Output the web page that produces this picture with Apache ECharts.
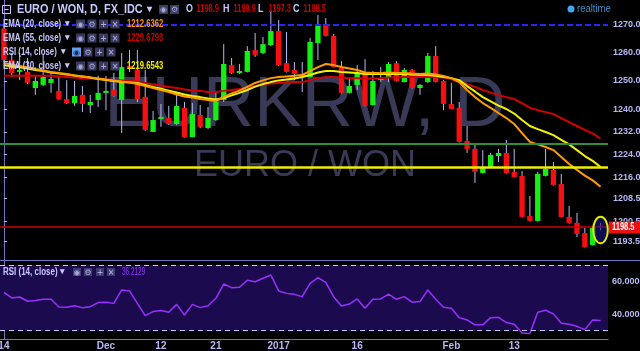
<!DOCTYPE html>
<html><head><meta charset="utf-8">
<script src="https://cdn.jsdelivr.net/npm/echarts@6/dist/echarts.min.js"></script>
<style>html,body{margin:0;padding:0;background:#000;}#c{width:640px;height:351px;}</style>
</head><body><div id="c"></div>
<script>
// ---- data (EUR/KRW daily, FX_IDC) ----
const dates = ['2016-11-14','2016-11-15','2016-11-16','2016-11-17','2016-11-18','2016-11-21','2016-11-22','2016-11-23','2016-11-24','2016-11-25',
 '2016-11-28','2016-11-29','2016-11-30','2016-12-01','2016-12-02','2016-12-05','2016-12-06','2016-12-07','2016-12-08','2016-12-09',
 '2016-12-12','2016-12-13','2016-12-14','2016-12-15','2016-12-16','2016-12-19','2016-12-20','2016-12-21','2016-12-22','2016-12-23',
 '2016-12-26','2016-12-27','2016-12-28','2016-12-29','2016-12-30','2017-01-02','2017-01-03','2017-01-04','2017-01-05','2017-01-06',
 '2017-01-09','2017-01-10','2017-01-11','2017-01-12','2017-01-13','2017-01-16','2017-01-17','2017-01-18','2017-01-19','2017-01-20',
 '2017-01-23','2017-01-24','2017-01-25','2017-01-26','2017-01-27','2017-01-30','2017-01-31','2017-02-01','2017-02-02','2017-02-03',
 '2017-02-06','2017-02-07','2017-02-08','2017-02-09','2017-02-10','2017-02-13','2017-02-14','2017-02-15','2017-02-16','2017-02-17',
 '2017-02-20','2017-02-21','2017-02-22','2017-02-23','2017-02-24','2017-02-27','2017-02-28'];
const open = [1268.5,1257.4,1253.2,1253.2,1247.5,1248.6,1249.3,1246.5,1243.6,1242.2,
 1245.1,1241.5,1243.3,1245.8,1246.8,1243.3,1255.3,1253.9,1244.4,1232.0,
 1236.6,1236.9,1234.8,1240.5,1230.2,1238.0,1233.4,1236.2,1243.3,1255.6,
 1252.8,1253.2,1260.9,1259.9,1262.7,1267.6,1256.3,1253.9,1252.5,1251.4,
 1263.4,1270.1,1265.9,1254.6,1245.8,1248.6,1252.5,1241.5,1250.3,1251.4,
 1256.3,1249.6,1253.9,1247.5,1249.6,1258.8,1250.0,1241.9,1240.5,1228.8,
 1226.0,1217.5,1219.6,1223.5,1224.6,1217.9,1216.5,1202.3,1200.6,1216.5,
 1218.6,1213.6,1202.0,1199.9,1196.3,1192.1,1198.9];
const close = [1257.4,1252.8,1253.9,1249.3,1250.0,1251.4,1250.7,1243.6,1242.2,1244.7,
 1241.9,1242.6,1245.8,1246.5,1244.7,1254.9,1254.2,1243.6,1232.7,1236.2,
 1237.3,1234.8,1241.2,1230.2,1238.3,1233.8,1236.9,1242.6,1256.0,1252.8,
 1253.5,1260.6,1259.2,1263.0,1267.6,1255.6,1253.2,1252.5,1251.4,1263.8,
 1269.4,1265.9,1254.9,1245.8,1248.2,1252.8,1241.2,1250.0,1250.7,1256.0,
 1250.0,1253.9,1247.5,1248.6,1258.8,1249.6,1241.9,1240.1,1228.5,1226.0,
 1217.9,1219.3,1223.9,1224.6,1217.5,1216.1,1202.0,1200.6,1217.2,1218.9,
 1213.3,1202.0,1199.9,1196.0,1191.4,1198.1,1198.5];
const low = [1256.8,1251.5,1250.3,1248.9,1245.1,1248.2,1245.8,1243.3,1241.9,1241.2,
 1239.0,1238.7,1240.8,1239.7,1244.4,1231.6,1253.2,1242.6,1232.3,1232.0,
 1233.8,1234.5,1234.5,1230.0,1230.0,1233.4,1233.0,1235.9,1242.6,1252.5,
 1252.5,1253.0,1258.5,1259.5,1262.3,1255.3,1253.0,1250.3,1246.1,1251.2,
 1257.4,1265.7,1254.8,1245.6,1245.6,1246.8,1241.0,1241.3,1249.6,1249.6,
 1249.8,1249.5,1247.3,1245.1,1249.3,1249.5,1239.7,1240.0,1228.3,1224.6,
 1214.0,1217.3,1219.5,1221.4,1217.3,1216.0,1201.8,1200.4,1200.4,1216.3,
 1213.1,1201.8,1199.7,1194.9,1191.2,1191.9,1197.3];
const high = [1269.5,1259.8,1259.9,1258.1,1251.8,1259.2,1253.2,1251.4,1250.3,1250.0,
 1248.2,1245.1,1251.8,1251.8,1252.8,1259.9,1260.9,1260.9,1253.9,1239.4,
 1241.9,1241.2,1246.1,1242.6,1242.2,1241.5,1240.8,1246.5,1263.0,1258.1,
 1256.0,1262.3,1266.9,1265.5,1275.0,1271.5,1267.3,1256.7,1256.7,1265.2,
 1273.3,1272.2,1266.6,1257.0,1251.1,1255.6,1257.7,1253.5,1254.9,1256.7,
 1257.0,1254.6,1254.2,1248.9,1259.9,1262.3,1250.3,1249.3,1242.6,1234.1,
 1227.7,1225.6,1224.6,1226.0,1229.2,1226.0,1218.2,1209.4,1217.9,1226.0,
 1221.4,1217.2,1205.9,1203.4,1198.1,1198.5,1199.9];
const ema20 = [1256.3,1255.8,1255.3,1254.8,1254.2,1253.7,1253.2,1252.8,1252.5,1251.9,
 1251.6,1251.2,1250.9,1250.5,1250.2,1249.8,1249.5,1248.9,1248.2,1247.5,
 1246.8,1246.1,1245.2,1244.5,1244.2,1243.6,1243.3,1242.9,1244.3,1245.6,
 1246.6,1247.9,1249.3,1250.2,1251.0,1251.4,1251.6,1251.8,1252.1,1253.5,
 1254.9,1256.0,1255.6,1254.9,1254.4,1253.9,1253.0,1252.8,1252.8,1253.0,
 1252.8,1252.8,1252.6,1252.5,1252.6,1252.3,1251.8,1251.0,1249.6,1246.8,
 1244.3,1242.2,1240.5,1238.7,1236.9,1234.8,1231.6,1228.5,1227.6,1226.7,
 1225.6,1223.2,1220.7,1218.6,1216.6,1214.9,1212.6362];
const ema30 = [1255.6,1255.1,1254.8,1254.4,1253.9,1253.5,1253.0,1252.6,1252.3,1251.9,
 1251.6,1251.2,1250.7,1250.3,1250.0,1249.6,1249.5,1249.3,1248.6,1247.9,
 1247.3,1246.6,1245.9,1245.2,1244.7,1244.3,1243.8,1243.5,1244.0,1244.9,
 1245.8,1246.8,1248.0,1248.9,1249.6,1250.2,1250.5,1250.9,1251.4,1252.1,
 1253.0,1253.5,1253.5,1253.2,1253.0,1252.8,1252.5,1252.5,1252.5,1252.5,
 1252.5,1252.5,1252.3,1252.1,1252.1,1251.8,1251.4,1251.0,1250.3,1248.2,
 1246.3,1244.3,1242.8,1241.3,1240.1,1238.5,1236.2,1234.1,1233.0,1232.0,
 1230.9,1229.2,1227.6,1225.6,1223.5,1221.8,1219.6543];
const ema55 = [1251.8,1251.8,1251.8,1251.8,1251.8,1251.8,1251.8,1251.6,1251.4,1251.2,
 1251.0,1250.9,1250.7,1250.5,1250.3,1250.2,1250.0,1249.8,1249.3,1248.8,
 1248.4,1247.9,1247.5,1247.0,1246.6,1246.5,1246.1,1246.1,1246.5,1246.8,
 1247.2,1247.7,1248.2,1248.8,1249.1,1249.3,1249.5,1249.6,1249.6,1250.3,
 1251.0,1251.4,1251.4,1251.2,1251.0,1251.0,1250.9,1250.9,1251.0,1251.2,
 1251.2,1251.4,1251.4,1251.4,1251.4,1251.4,1251.2,1250.7,1249.6,1248.9,
 1247.9,1246.8,1245.9,1245.0,1244.3,1243.6,1242.2,1240.5,1239.7,1239.0,
 1238.3,1236.9,1235.5,1234.1,1232.7,1231.5,1229.6793];
const rsi14 = [53.3,49.9,50.5,47.9,48.3,49.1,49.1,44.4,44.2,45.2,
 44.0,44.6,47.1,47.3,46.6,54.8,54.2,46.6,39.1,41.6,
 42.2,41.2,46.0,39.5,46.0,44.0,45.2,49.7,58.4,56.2,
 56.4,60.7,59.8,61.9,63.9,54.2,52.7,52.1,50.7,58.8,
 62.3,59.4,50.7,45.0,46.2,49.3,43.6,49.1,49.3,52.3,
 49.1,50.7,47.3,47.7,54.8,49.1,44.2,43.6,37.9,36.5,
 33.5,33.5,37.9,38.1,34.9,33.9,28.6,28.2,41.2,42.4,
 40.2,34.5,33.9,32.6,30.6,36.5,36.2129];
const priceTicks = [1193.5,1200.5,1208.5,1216.0,1224.0,1232.0,1240.0,1250.0,1260.0,1270.0];
const rsiTicks = [40,60];
const rsiBands = [30,70];
const xTickIndex = [0,13,20,27,35,45,57,65];
const xTickText = ['14','Dec','12','21','2017','16','Feb','13'];
const drawnLevels = [1270.0,1227.7,1219.7];   // blue dashed, green, yellow
const lastPrice = 1198.5;
const highlightMark = [76,1197.4];

// ---- build ----
const N = dates.length;
const candleData = dates.map((d,i)=>[i,open[i],close[i],low[i],high[i]]);
const pts = arr => arr.map((v,i)=>[i,v]);
const FF = "'Liberation Sans',Arial,sans-serif";
const LAV = '#c8c8ff';

function txt(x,y,s,fill,size,weight,sx,align){
  return {type:'text',x:x,y:y,scaleX:sx||1,z:50,style:{text:s,x:0,y:0,fill:fill,font:(weight||'bold')+' '+size+'px '+FF,
    textAlign:align||'left',align:align||'left',textVerticalAlign:'middle',verticalAlign:'middle'}};
}
function icon(x,y,gl,bg,fg,s){
  s=s||9;
  return {type:'group',x:x,y:y,z:50,children:[
    {type:'rect',z:50,shape:{x:0,y:0,width:s,height:s},style:{fill:bg}},
    {type:'text',z:51,style:{text:gl,x:s/2,y:s/2+0.5,fill:fg,font:'bold 8px DejaVu Sans',textAlign:'center',align:'center',textVerticalAlign:'middle',verticalAlign:'middle'}}
  ]};
}
const IB='#3a3a60', IF='#a8a8d8';
const g = [];
// watermark
g.push({type:'text',x:305,y:106,z:0,style:{text:'EURKRW, D',fill:'#393958',font:'71px Liberation Sans',textAlign:'center',align:'center',textVerticalAlign:'middle',verticalAlign:'middle'}});
g.push({type:'text',x:305,y:166,z:0,style:{text:'EURO / WON',fill:'#393958',font:'36px Liberation Sans',textAlign:'center',align:'center',textVerticalAlign:'middle',verticalAlign:'middle'}});
// title row
g.push({type:'rect',z:50,shape:{x:2.5,y:5.5,width:8,height:8},style:{fill:'none',stroke:LAV,lineWidth:1}});
g.push({type:'line',z:50,shape:{x1:4.5,y1:9.5,x2:8.5,y2:9.5},style:{stroke:LAV,lineWidth:1}});
g.push(txt(17,9.5,'EURO / WON, D, FX_IDC',LAV,12.5,'bold',0.87));
g.push(txt(147,9.5,'▾',LAV,10,'bold',1));
g.push(icon(159,5,'◉',IB,IF)); g.push(icon(170,5,'⚙',IB,IF));
const L = N-1;
[['O',186,open[L]],['H',223,high[L]],['L',258,low[L]],['C',293,close[L]]].forEach(a=>{
  g.push(txt(a[1],9.5,a[0],LAV,10.5,'bold',0.85));
  g.push(txt(a[1]+10.5,9.5,a[2].toFixed(1),'#c80000',10,'bold',0.75));
});
g.push({type:'circle',z:50,shape:{cx:571,cy:9,r:3.5},style:{fill:'#3fa9f5'}});
g.push(txt(577,9,'realtime','#3a8cc4',10,'normal',0.95));
// indicator legend rows
const rows = [['EMA (20, close)',24,ema20[L].toFixed(4),'#ff9800',false],
              ['EMA (55, close)',38,ema55[L].toFixed(4),'#cc0000',false],
              ['RSI (14, close)',52,null,null,true],
              ['EMA (30, close)',66,ema30[L].toFixed(4),'#f0f000',false]];
rows.forEach(r=>{
  g.push(txt(3,r[1],r[0],LAV,10.5,'bold',0.75));
  if(r[4]){
    g.push(txt(61,r[1],'▾',LAV,9,'bold',1));
    g.push(icon(72,r[1]-4.5,'◉','#62a0f0','#1a2a60'));
    g.push(icon(83.5,r[1]-4.5,'⚙',IB,IF)); g.push(icon(95,r[1]-4.5,'+',IB,IF)); g.push(icon(106.5,r[1]-4.5,'×',IB,IF));
  } else {
    g.push(txt(65,r[1],'▾',LAV,9,'bold',1));
    g.push(icon(76,r[1]-4.5,'◉',IB,IF)); g.push(icon(87.5,r[1]-4.5,'⚙',IB,IF)); g.push(icon(99,r[1]-4.5,'+',IB,IF)); g.push(icon(110.5,r[1]-4.5,'×',IB,IF));
    g.push(txt(127,r[1],r[2],r[3],10.5,'bold',0.73));
  }
});
// RSI pane legend
g.push(txt(3,272,'RSI (14, close)',LAV,10.5,'bold',0.76));
g.push(txt(60,272,'▾',LAV,9,'bold',1));
g.push(icon(73,268,'◉','#3c3c70',IF,8)); g.push(icon(84,268,'⚙','#3c3c70',IF,8)); g.push(icon(96,268,'+','#3c3c70',IF,8)); g.push(icon(107,268,'×','#3c3c70',IF,8));
g.push(txt(122,272,rsi14[L].toFixed(4),'#9a3cff',10,'normal',0.64));
// pane separator
g.push({type:'line',z:40,shape:{x1:0,y1:260.5,x2:640,y2:260.5},style:{stroke:'#7272c6',lineWidth:1}});

function renderCandle(p,api){
  const i=api.value(0),o=api.value(1),c=api.value(2),lo=api.value(3),hi=api.value(4);
  const pO=api.coord([i,o]),pC=api.coord([i,c]),pL=api.coord([i,lo]),pH=api.coord([i,hi]);
  const w=api.size([1,0])[0]*0.68;
  const up=c>=o;
  const top=Math.min(pO[1],pC[1]),h=Math.max(1,Math.abs(pO[1]-pC[1]));
  return {type:'group',children:[
    {type:'line',shape:{x1:pH[0],y1:pH[1],x2:pL[0],y2:pL[1]},style:{stroke:'#b8b8f4',lineWidth:1}},
    {type:'rect',shape:{x:pO[0]-w/2,y:top,width:w,height:h},style:{fill:up?'#14f014':'#f41010'}}
  ]};
}

const axisFont = {color:'#b8b8f6',fontFamily:FF,fontWeight:'bold',fontSize:9};
const option = {
  backgroundColor:'#000',
  animation:false,
  grid:[{left:0,top:0,width:608,height:260,outerBoundsMode:'none',containLabel:false},
        {left:0,top:261,width:608,height:78,outerBoundsMode:'none',containLabel:false}],
  xAxis:[
    {type:'value',gridIndex:0,min:-0.5,max:76.95,show:false},
    {type:'value',gridIndex:1,min:-0.5,max:76.95,
      axisLine:{show:true,lineStyle:{color:'#7272c6',width:1}},axisTick:{show:false},splitLine:{show:false},
      axisLabel:Object.assign({},axisFont,{fontSize:10,customValues:xTickIndex,margin:2,formatter:v=>xTickText[xTickIndex.indexOf(Math.round(v))]||''})}
  ],
  yAxis:[
    {type:'value',gridIndex:0,position:'right',min:1186.8,max:1278.58,
      axisLine:{show:true,lineStyle:{color:'#7272c6',width:1}},
      axisTick:{show:true,length:3,customValues:priceTicks,lineStyle:{color:'#b8b8f6'}},
      splitLine:{show:false},
      axisLabel:Object.assign({customValues:priceTicks,margin:5,formatter:v=>v.toFixed(1)},axisFont)},
    {type:'value',gridIndex:1,position:'right',min:24.88,max:72.44,
      axisLine:{show:true,lineStyle:{color:'#7272c6',width:1}},
      axisTick:{show:true,length:3,customValues:rsiTicks,lineStyle:{color:'#b8b8f6'}},
      splitLine:{show:false},
      axisLabel:Object.assign({customValues:rsiTicks,margin:4,formatter:v=>v.toFixed(4)},axisFont)}
  ],
  graphic:{elements:g},
  series:[
    {type:'custom',name:'EURKRW',xAxisIndex:0,yAxisIndex:0,z:2,renderItem:renderCandle,data:candleData,encode:{x:0,y:[1,2,3,4]}},
    {type:'line',name:'EMA55',xAxisIndex:0,yAxisIndex:0,z:3,data:pts(ema55),showSymbol:false,lineStyle:{color:'#d40000',width:2},
      markLine:{silent:true,symbol:['none','none'],label:{show:false},
        data:[
          {yAxis:drawnLevels[0],lineStyle:{color:'#2626ff',width:2,type:[6,3]}},
          {yAxis:drawnLevels[1],lineStyle:{color:'#2f8f36',width:2,type:'solid'}},
          {yAxis:drawnLevels[2],lineStyle:{color:'#eeee00',width:2.5,type:'solid'}},
          {yAxis:lastPrice,lineStyle:{color:'#d00000',width:1.5,type:'solid'}}
        ]}},
    {type:'line',name:'EMA30',xAxisIndex:0,yAxisIndex:0,z:3,data:pts(ema30),showSymbol:false,lineStyle:{color:'#f2f200',width:2}},
    {type:'line',name:'EMA20',xAxisIndex:0,yAxisIndex:0,z:3,data:pts(ema20),showSymbol:false,lineStyle:{color:'#ff9a00',width:2}},
    {type:'custom',name:'mark',xAxisIndex:0,yAxisIndex:0,z:6,data:[highlightMark],
      renderItem:(p,api)=>{const c=api.coord([api.value(0),api.value(1)]);
        return {type:'ellipse',shape:{cx:c[0],cy:c[1],rx:7.3,ry:13.3},style:{fill:'rgba(24,24,130,0.6)',stroke:'#e8e800',lineWidth:2}};}},
    {type:'line',name:'RSI',xAxisIndex:1,yAxisIndex:1,z:3,data:pts(rsi14),showSymbol:false,lineStyle:{color:'#9a30ff',width:1.5},
      markArea:{silent:true,itemStyle:{color:'#1b0b4e'},data:[[{yAxis:rsiBands[0]},{yAxis:rsiBands[1]}]]},
      markLine:{silent:true,symbol:['none','none'],label:{show:false},lineStyle:{color:'#c8c8ff',width:1,type:[5,4]},
        data:[{yAxis:rsiBands[0]},{yAxis:rsiBands[1]}]}}
  ]
};
const chart = echarts.init(document.getElementById('c'),null,{renderer:'canvas'});
chart.setOption(option);
// last-price tag on the price scale
const py = chart.convertToPixel({yAxisIndex:0},lastPrice);
chart.setOption({graphic:{elements:[
  {id:'ptag',type:'rect',z:60,shape:{x:609,y:Math.round(py)-5.5,width:31,height:12},style:{fill:'#ee1010'}},
  {id:'ptxt',type:'text',z:61,x:612,y:Math.round(py)+0.5,scaleX:0.75,style:{text:lastPrice.toFixed(1),x:0,y:0,fill:'#ffffff',font:'bold 10px '+FF,textAlign:'left',align:'left',textVerticalAlign:'middle',verticalAlign:'middle'}}
]}});
</script></body></html>
